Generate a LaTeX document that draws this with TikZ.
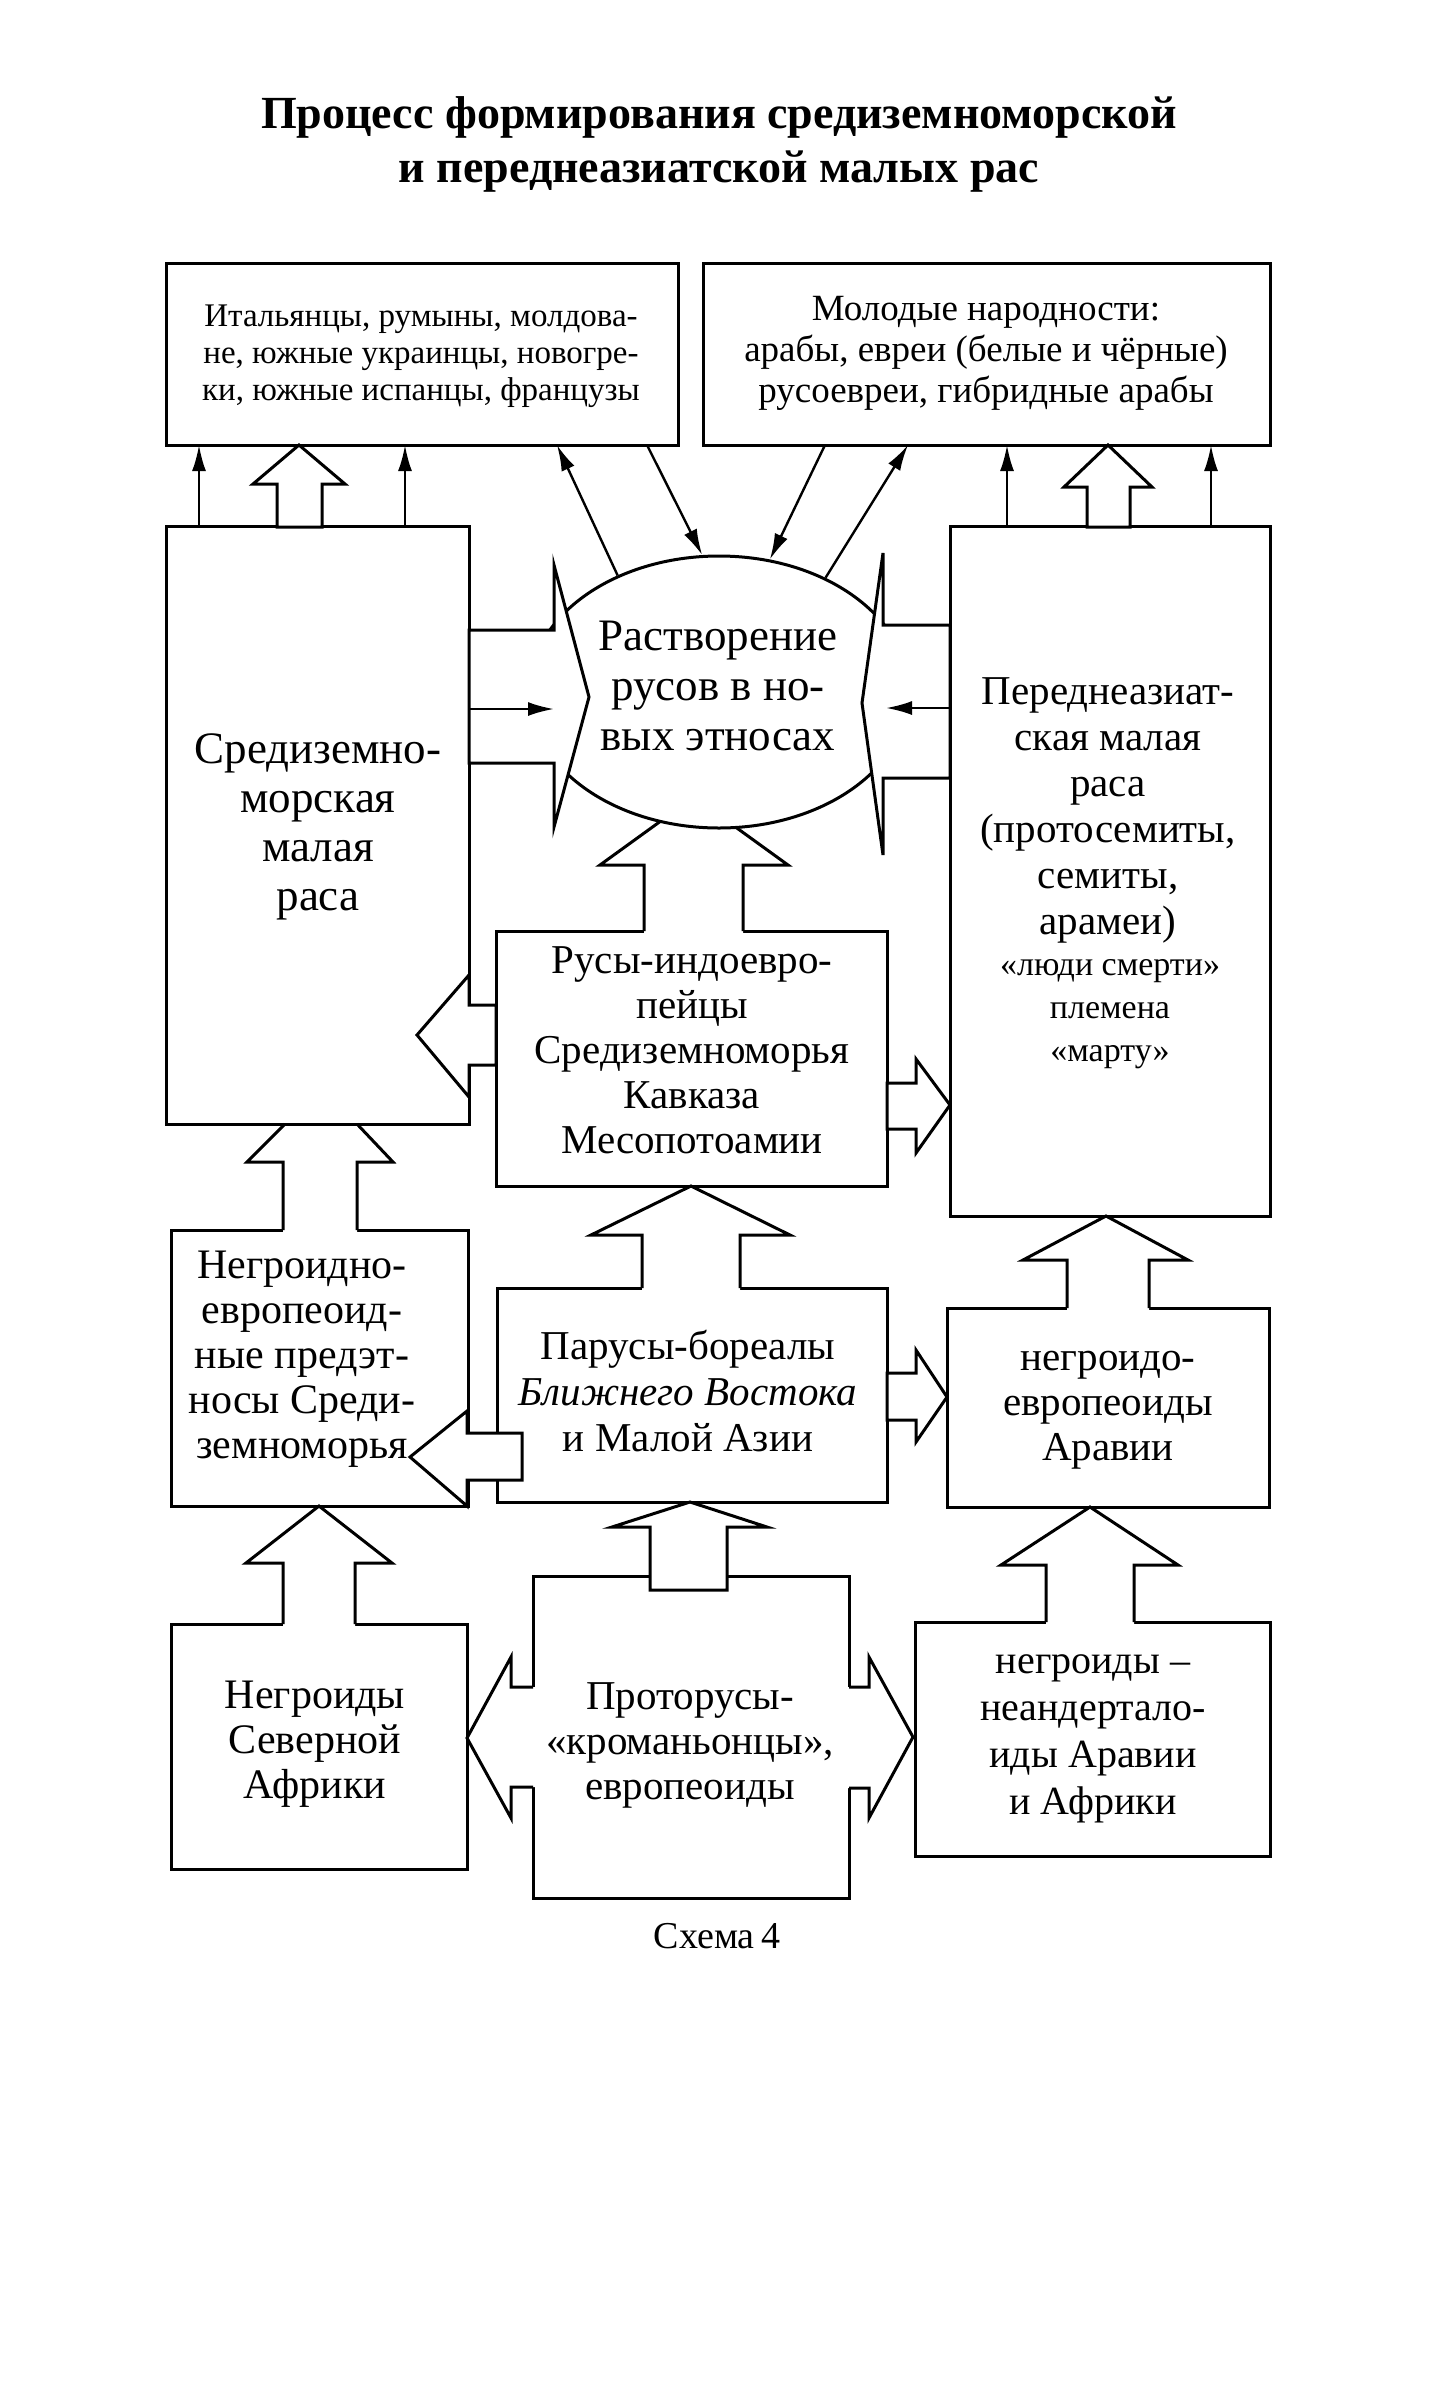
\documentclass[tikz,border=0pt]{standalone}
\usepackage{fontspec}
\setmainfont{Liberation Serif}
\usetikzlibrary{arrows.meta,shapes.geometric}
\tikzset{
  ln/.style={line width=3pt},
  box/.style={draw, line width=3pt, fill=white, inner sep=0pt, outer sep=0pt},
  tarr/.style={line width=2.4pt, -{Latex[length=26pt,width=14pt]}},
  txt/.style={align=center, inner sep=0pt},
}
\newcommand\fs[2]{\fontsize{#1}{#2}\selectfont}
% open up arrow: shaft L, shaft R, head L, head R, tip x, tip y, base y, bottom y
\newcommand\blkupo[8]{%
  \fill[white] (#1,#8+2) -- (#1,#7) -- (#3,#7) -- (#5,#6) -- (#4,#7) -- (#2,#7) -- (#2,#8+2) -- cycle;
  \draw[ln] (#1,#8) -- (#1,#7) -- (#3,#7) -- (#5,#6) -- (#4,#7) -- (#2,#7) -- (#2,#8);}
\newcommand\blkupc[8]{%
  \draw[ln,fill=white] (#1,#8) -- (#1,#7) -- (#3,#7) -- (#5,#6) -- (#4,#7) -- (#2,#7) -- (#2,#8) -- cycle;}
% horizontal: start x, shaft top, shaft bottom, head back x, head top, head bottom, tip x, tip y
\newcommand\blkhc[8]{%
  \draw[ln,fill=white] (#1,#2) -- (#4,#2) -- (#4,#5) -- (#7,#8) -- (#4,#6) -- (#4,#3) -- (#1,#3) -- cycle;}
\newcommand\blkho[9]{%
  \fill[white] (#9,#2) -- (#4,#2) -- (#4,#5) -- (#7,#8) -- (#4,#6) -- (#4,#3) -- (#9,#3) -- cycle;
  \draw[ln] (#1,#2) -- (#4,#2) -- (#4,#5) -- (#7,#8) -- (#4,#6) -- (#4,#3) -- (#1,#3);}
\begin{document}
\begin{tikzpicture}[x=1pt,y=-1pt]
\useasboundingbox[fill=white] (0,0) rectangle (1433,2407);

% boxes
\node[box, minimum width=512pt, minimum height=182pt] (tl) at (422,354) {};
\node[box, minimum width=567pt, minimum height=182pt] (tr) at (986.5,354) {};
\node[box, minimum width=303pt, minimum height=598pt] (med) at (317.5,825) {};
\node[box, minimum width=320pt, minimum height=690pt] (pa) at (1110,871) {};
\node[box, minimum width=391pt, minimum height=255pt] (rusy) at (691.5,1058.5) {};
\node[box, minimum width=297pt, minimum height=276pt] (ngd) at (319.5,1368) {};
\node[box, minimum width=390pt, minimum height=214pt] (par) at (692,1395) {};
\node[box, minimum width=322pt, minimum height=199pt] (arv) at (1108,1407.5) {};
\node[box, minimum width=296pt, minimum height=245pt] (nsa) at (319,1746.5) {};
\node[box, minimum width=316pt, minimum height=322pt] (pro) at (691,1737) {};
\node[box, minimum width=355pt, minimum height=234pt] (nna) at (1092.5,1739) {};

% arrow from Rusy up into the ellipse, then ellipse
\blkupo{644}{743}{600}{788}{694}{797}{865}{931}
\node[draw, ellipse, line width=3pt, fill=white, minimum width=380pt, minimum height=272pt, inner sep=0pt] (el) at (719,692) {};

% side hollow arrows into the ellipse
\blkhc{469}{630}{763}{554}{565}{827}{589}{697}
\blkhc{950}{625}{778}{883}{553}{855}{862}{703}
\coordinate (lhb) at (554,709);
\coordinate (rhb) at (886,708);
\draw[tarr] (med.east |- lhb) -- (lhb);
\draw[tarr] (pa.west |- rhb) -- (rhb);

% top arrows
\blkupc{277}{322}{253}{345}{299}{445}{484}{527}
\blkupc{1087}{1130}{1064}{1152}{1108}{445}{487}{527}
\draw[tarr] (med.north -| 199,0) -- (tl.south -| 199,0);
\draw[tarr] (med.north -| 405,0) -- (tl.south -| 405,0);
\draw[tarr] (pa.north -| 1007,0) -- (tr.south -| 1007,0);
\draw[tarr] (pa.north -| 1211,0) -- (tr.south -| 1211,0);

% ellipse <-> top boxes
\draw[tarr] (el.131.5) -- (tl.south -| 557,0);
\draw[tarr] (tl.south -| 647,0) -- (el.97.7);
\draw[tarr] (tr.south -| 825,0) -- (el.69);
\draw[tarr] (el.47.1) -- (tr.south -| 908,0);

% middle row arrows
\blkhc{496}{1005}{1065}{469}{975}{1097}{417}{1035}
\blkhc{887}{1083}{1129}{916}{1059}{1153}{950}{1105}
\blkupo{642}{740}{591}{790}{691}{1186}{1235}{1288}
\blkupo{1067}{1149}{1023}{1188}{1106}{1216}{1260}{1308}
% truncated arrow into the Mediterranean box
\fill[white] (283,1232) -- (283,1162) -- (247,1162) -- (285,1126) -- (357,1126) -- (393,1162) -- (357,1162) -- (357,1232) -- cycle;
\draw[ln] (ngd.north -| 283,0) -- (283,1162) -- (247,1162) -- (med.south -| 285,0);
\draw[ln] (med.south -| 357,0) -- (393,1162) -- (357,1162) -- (ngd.north -| 357,0);

\blkhc{522}{1433}{1480}{467}{1411}{1506}{410}{1457}
\blkhc{887}{1373}{1420}{916}{1350}{1442}{947}{1397}

% bottom row arrows
\blkupo{283}{355}{246}{392}{319}{1506}{1563}{1624}
\blkupc{650}{727}{612}{767}{690}{1502}{1527}{1590}
\blkupo{1046}{1134}{1001}{1178}{1090}{1507}{1565}{1622}
\blkho{533}{1687}{1787}{511}{1657}{1818}{467}{1738}{535}
\blkho{849}{1687}{1788}{869}{1657}{1818}{913}{1737}{847}

% texts
\node[anchor=base, font=\fs{46}{54}\bfseries] (t1) at (719,128) {Процесс формирования средиземноморской};
\node[anchor=base, font=\fs{46}{54}\bfseries] (t2) at (719,182) {и переднеазиатской малых рас};
\node[txt, font=\fs{33}{37}] (tlt) at (421,356) {Итальянцы, румыны, молдова-\\не, южные украинцы, новогре-\\ки, южные испанцы, французы};
\node[txt, font=\fs{37}{41}] (trt) at (986,353) {Молодые народности:\\арабы, евреи (белые и чёрные)\\русоевреи, гибридные арабы};
\node[txt, font=\fs{45}{49}] (medt) at (318,827) {Средиземно-\\морская\\малая\\раса};
\node[txt, font=\fs{45}{50}] (elt) at (718,686) {Растворение\\русов в но-\\вых этносах};
\node[txt, font=\fs{41}{46}] (pat) at (1108,810) {Переднеазиат-\\ская малая\\раса\\(протосемиты,\\семиты,\\арамеи)};
\node[txt, font=\fs{34}{43}] (pat2) at (1110,1014) {«люди смерти»\\племена\\«марту»};
\node[txt, font=\fs{41}{45}] (rusyt) at (692,1050) {Русы-индоевро-\\пейцы\\Средиземноморья\\Кавказа\\Месопотоамии};
\node[txt, font=\fs{42}{45}] (ngdt) at (302,1359) {Негроидно-\\европеоид-\\ные предэт-\\носы Среди-\\земноморья};
\node[txt, font=\fs{41}{46}] (part) at (688,1391) {Парусы-бореалы\\\textit{Ближнего Востока}\\и Малой Азии};
\node[txt, font=\fs{41}{45}] (arvt) at (1108,1410) {негроидо-\\европеоиды\\Аравии};
\node[txt, font=\fs{42}{45}] (nsat) at (315,1744) {Негроиды\\Северной\\Африки};
\node[txt, font=\fs{41}{45}] (prot) at (690,1745) {Проторусы-\\«кроманьонцы»,\\европеоиды};
\node[txt, font=\fs{40}{47}] (nnat) at (1093,1739) {негроиды –\\неандертало-\\иды Аравии\\и Африки};
\node[txt, font=\fs{38}{40}] (sch) at (717,1936) {Схема\,4};
\end{tikzpicture}
\end{document}
